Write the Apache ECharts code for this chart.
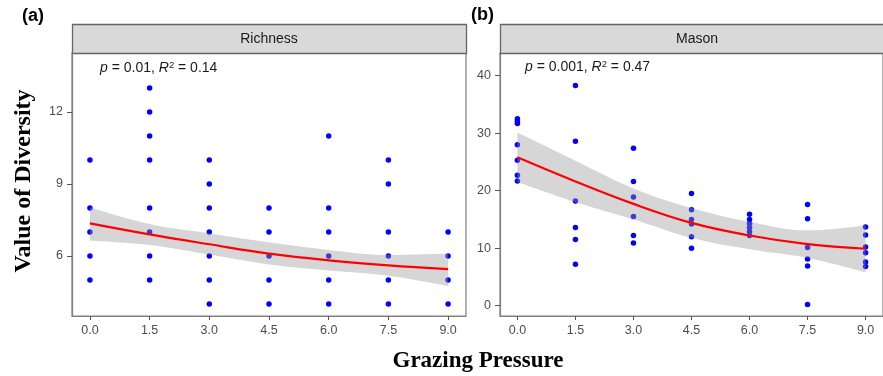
<!DOCTYPE html>
<html>
<head>
<meta charset="utf-8">
<script src="https://cdn.jsdelivr.net/npm/echarts@6/dist/echarts.min.js"></script>
<style>
  html, body { margin: 0; padding: 0; background: #fff; }
  #chart { width: 883px; height: 376px; }
</style>
</head>
<body>
<div id="chart"></div>
<script>
// grazing pressure levels (x ticks too)
const grazingLevels = [0, 1.5, 3, 4.5, 6, 7.5, 9]
const richnessTicks = [6, 9, 12]
const masonTicks = [0, 10, 20, 30, 40]

// observed values, one list per grazing level
const richnessByLevel = [
  [10, 8, 7, 6, 5],
  [13, 12, 11, 10, 8, 7, 6, 5],
  [10, 9, 8, 7, 6, 5, 4],
  [8, 7, 6, 5, 4],
  [11, 8, 7, 6, 5, 4],
  [10, 9, 7, 6, 5, 4],
  [7, 6, 5, 4]
]
const masonByLevel = [
  [32.5, 32.1, 31.7, 28.0, 25.3, 22.7, 21.7],
  [38.3, 28.6, 18.2, 13.6, 11.5, 7.2],
  [27.4, 21.6, 18.9, 15.5, 12.2, 10.9],
  [19.5, 16.7, 15.0, 14.2, 12.0, 10.0],
  [15.9, 15.0, 14.3, 13.6, 12.9, 12.2],
  [17.6, 15.1, 10.1, 8.1, 6.9, 0.2],
  [13.7, 12.3, 10.2, 9.2, 7.6, 6.8]
]

// fitted curve + confidence band, read at each grazing level
const richnessFit = [7.36, 6.9, 6.49, 6.1, 5.82, 5.61, 5.45]
const richnessUpper = [8.03, 7.33, 6.94, 6.57, 6.25, 6.04, 6.1]
const richnessLower = [6.64, 6.46, 6.06, 5.65, 5.4, 5.18, 4.75]
const masonFit = [25.8, 21.6, 17.7, 14.4, 12.2, 10.7, 9.9]
const masonUpper = [30.1, 25.2, 20.4, 17.0, 14.6, 13.1, 14.0]
const masonLower = [21.5, 18.0, 15.0, 11.8, 9.8, 8.3, 5.8]

const FONT = "Liberation Sans, Arial, sans-serif"
const SERIF = "Liberation Serif, Times New Roman, serif"

function points(byLevel) {
  const out = []
  byLevel.forEach((vals, i) => vals.forEach((v) => out.push([grazingLevels[i], v])))
  return out
}
function pairs(vals) {
  return vals.map((v, i) => [grazingLevels[i], v])
}
// [value, level] order so the stacked dimension is the y value
function flipped(vals) {
  return vals.map((v, i) => [v, grazingLevels[i]])
}

function xAxisFor(gridIndex) {
  return {
    type: "value",
    gridIndex,
    min: -0.45,
    max: 9.45,
    axisLine: { show: true, onZero: false, lineStyle: { color: "#808080", width: 1.2 } },
    splitLine: { show: false },
    axisTick: {
      show: true,
      length: 4,
      customValues: grazingLevels,
      lineStyle: { color: "#555", width: 1 }
    },
    axisLabel: {
      customValues: grazingLevels,
      formatter: (v) => v.toFixed(1),
      color: "#4d4d4d",
      fontSize: 12.5,
      fontFamily: FONT,
      margin: 8
    }
  }
}

function yAxisFor(gridIndex, min, max, ticks) {
  return {
    type: "value",
    gridIndex,
    min,
    max,
    axisLine: { show: true, onZero: false, lineStyle: { color: "#808080", width: 1.2 } },
    splitLine: { show: false },
    axisTick: {
      show: true,
      length: 5,
      customValues: ticks,
      lineStyle: { color: "#555", width: 1 }
    },
    axisLabel: {
      customValues: ticks,
      color: "#4d4d4d",
      fontSize: 12.5,
      fontFamily: FONT,
      margin: 9
    }
  }
}

function panelSeries(idx, byLevel, fit, upper, lower) {
  const stackName = "band" + idx
  return [
    {
      type: "scatter",
      xAxisIndex: idx,
      yAxisIndex: idx,
      data: points(byLevel),
      symbolSize: 5.5,
      itemStyle: { color: "#0000ff", opacity: 1 },
      z: 2
    },
    {
      type: "line",
      xAxisIndex: idx,
      yAxisIndex: idx,
      data: flipped(lower),
      encode: { x: 1, y: 0 },
      stack: stackName,
      smooth: 0.4,
      symbol: "none",
      lineStyle: { opacity: 0 },
      z: 3
    },
    {
      type: "line",
      xAxisIndex: idx,
      yAxisIndex: idx,
      data: flipped(upper.map((u, i) => u - lower[i])),
      encode: { x: 1, y: 0 },
      stack: stackName,
      smooth: 0.4,
      symbol: "none",
      lineStyle: { opacity: 0 },
      areaStyle: { color: "rgba(153,153,153,0.4)", opacity: 1 },
      z: 3
    },
    {
      type: "line",
      xAxisIndex: idx,
      yAxisIndex: idx,
      data: pairs(fit),
      smooth: 0.4,
      symbol: "none",
      lineStyle: { color: "#ff0000", width: 2.2 },
      z: 4
    }
  ]
}

function strip(x, label) {
  return [
    {
      type: "rect",
      shape: { x: x + 0.5, y: 24.5, width: 394, height: 29 },
      style: { fill: "#d9d9d9", stroke: "#666", lineWidth: 1.3 },
      z: 10
    },
    {
      type: "text",
      x: x + 197,
      y: 39,
      style: {
        text: label,
        fill: "#1a1a1a",
        font: "14px " + FONT,
        textAlign: "center",
        textVerticalAlign: "middle"
      },
      z: 11
    }
  ]
}

function note(x, y, text) {
  return {
    type: "text",
    x,
    y,
    style: {
      text,
      fill: "#1a1a1a",
      font: "14px " + FONT,
      textAlign: "left",
      textVerticalAlign: "middle",
      rich: {
        i: { fontStyle: "italic", fontSize: 14, fontFamily: FONT, fill: "#1a1a1a" },
        n: { fontSize: 14, fontFamily: FONT, fill: "#1a1a1a" },
        s: { fontSize: 9.5, fontFamily: FONT, fill: "#1a1a1a", verticalAlign: "top", padding: [0, 0, 6, 0] }
      }
    },
    z: 11
  }
}

const chart = echarts.init(document.getElementById("chart"), null, { width: 883, height: 376 })

chart.setOption({
  animation: false,
  backgroundColor: "#fff",
  grid: [
    { left: 72, top: 53, width: 394, height: 263, show: true, borderColor: "#808080", borderWidth: 1.2, backgroundColor: "#fff" },
    { left: 500, top: 53, width: 394, height: 263, show: true, borderColor: "#808080", borderWidth: 1.2, backgroundColor: "#fff" }
  ],
  xAxis: [xAxisFor(0), xAxisFor(1)],
  yAxis: [
    yAxisFor(0, 3.5, 14.46, richnessTicks),
    yAxisFor(1, -1.8, 43.95, masonTicks)
  ],
  series: [
    ...panelSeries(0, richnessByLevel, richnessFit, richnessUpper, richnessLower),
    ...panelSeries(1, masonByLevel, masonFit, masonUpper, masonLower)
  ],
  graphic: [
    ...strip(72, "Richness"),
    ...strip(500, "Mason"),
    note(100, 68, "{i|p}{n| = 0.01, }{i|R}{s|2}{n| = 0.14}"),
    note(525, 67, "{i|p}{n| = 0.001, }{i|R}{s|2}{n| = 0.47}"),
    {
      type: "text", x: 22, y: 16,
      style: { text: "(a)", fill: "#000", font: "bold 18px " + FONT, textAlign: "left", textVerticalAlign: "middle" },
      z: 12
    },
    {
      type: "text", x: 471, y: 15,
      style: { text: "(b)", fill: "#000", font: "bold 18px " + FONT, textAlign: "left", textVerticalAlign: "middle" },
      z: 12
    },
    {
      type: "text", x: 24, y: 181, rotation: Math.PI / 2,
      style: { text: "Value of Diversity", fill: "#000", font: "bold 24px " + SERIF, textAlign: "center", textVerticalAlign: "middle" },
      z: 12
    },
    {
      type: "text", x: 478, y: 361,
      style: { text: "Grazing Pressure", fill: "#000", font: "bold 23px " + SERIF, textAlign: "center", textVerticalAlign: "middle" },
      z: 12
    }
  ]
})
</script>
</body>
</html>
